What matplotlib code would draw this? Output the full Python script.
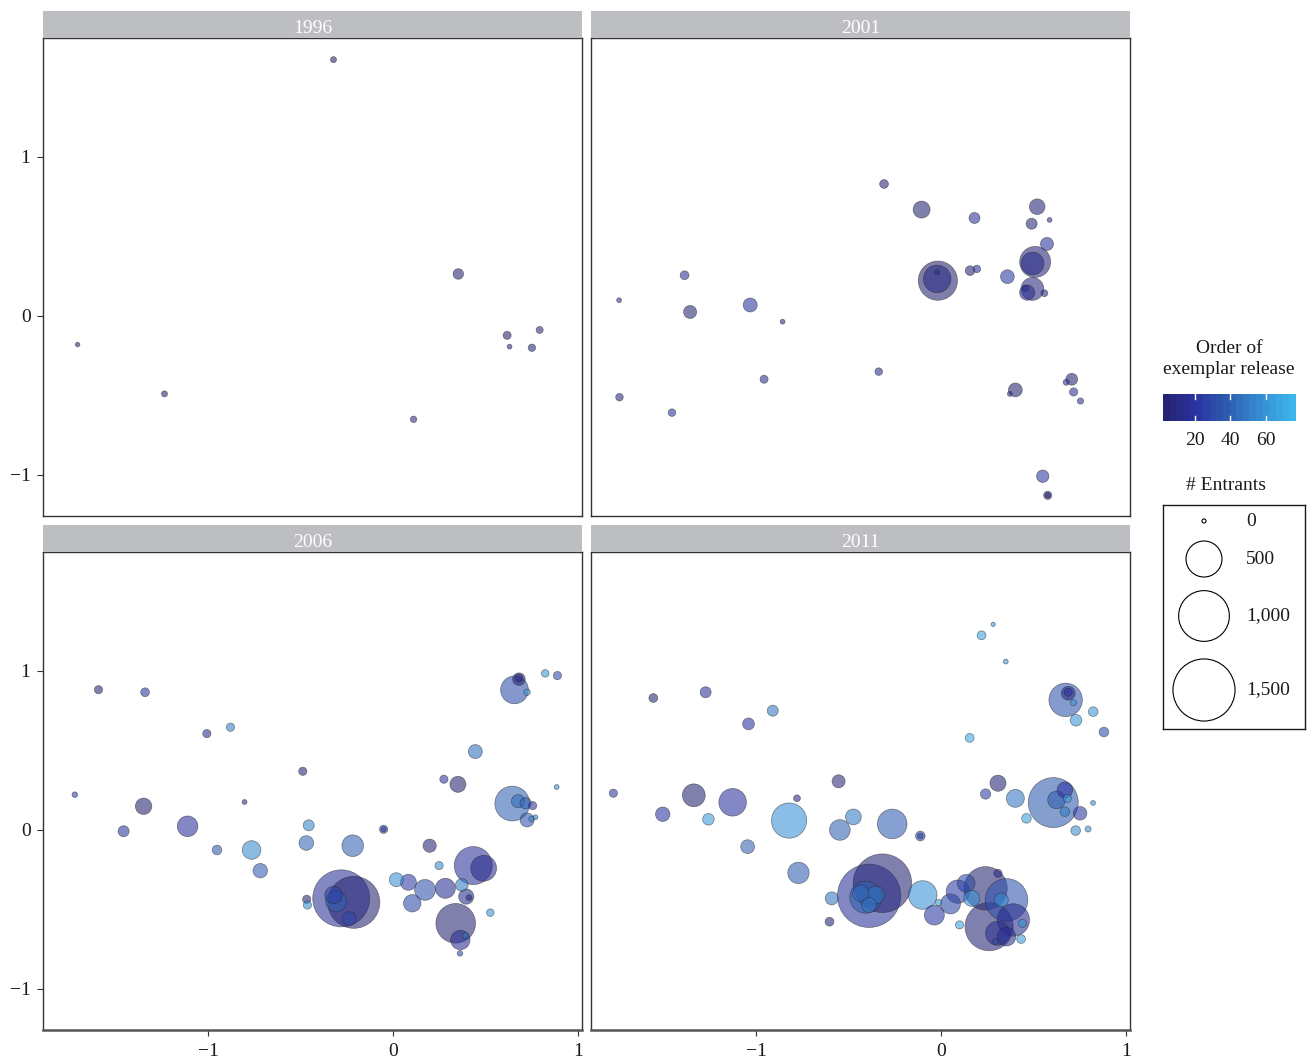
import matplotlib
matplotlib.use("Agg")
import matplotlib.pyplot as plt
import numpy as np
from matplotlib.colors import LinearSegmentedColormap, Normalize

plt.rcParams['font.family'] = ['Liberation Serif', 'DejaVu Serif']

# ---- data: position, number of entrants, order of exemplar release ----
x_1996 = [-0.324, -1.708, -1.238, 0.109, 0.351, 0.615, 0.628, 0.749, 0.791]
y_1996 = [1.612, -0.18, -0.49, -0.65, 0.264, -0.122, -0.193, -0.20, -0.088]
n_1996 = [8, 2, 8, 10, 37, 19, 3, 15, 13]
o_1996 = [3, 5, 2, 7, 1, 4, 9, 6, 8]

x_2001 = [-0.31, -0.107, 0.179, 0.518, 0.585, 0.488, 0.571, 0.507, 0.493,
          0.492, 0.464, 0.454, 0.557, -0.019, -0.023, -0.023, 0.155, 0.192,
          0.357, -1.743, -1.389, -1.359, -1.034, -0.859, -0.959, -0.339,
          -1.741, -1.457, 0.40, 0.37, 0.705, 0.675, 0.715, 0.752, 0.548,
          0.575, 0.575]
y_2001 = [0.83, 0.669, 0.616, 0.687, 0.604, 0.58, 0.453, 0.34, 0.33,
          0.17, 0.147, 0.174, 0.143, 0.222, 0.233, 0.275, 0.285, 0.296,
          0.247, 0.099, 0.256, 0.025, 0.069, -0.036, -0.398, -0.35,
          -0.511, -0.608, -0.465, -0.49, -0.398, -0.417, -0.478, -0.535, -1.008,
          -1.128, -1.128]
n_2001 = [24, 106, 41, 89, 3, 41, 60, 369, 197,
          197, 84, 8, 12, 594, 291, 4, 30, 16,
          68, 3, 24, 60, 70, 3, 19, 16,
          16, 16, 68, 3, 48, 8, 20, 9, 54,
          20, 5]
o_2001 = [6, 4, 18, 5, 16, 7, 20, 6, 12,
          8, 14, 20, 10, 3, 10, 15, 5, 17,
          22, 19, 15, 4, 21, 9, 14, 13,
          7, 17, 5, 9, 3, 16, 18, 19, 22,
          4, 12]

x_2006 = [-1.595, -1.343, -1.009, -0.881, -1.723, -1.351, -1.459, -1.113, -0.805,
          -0.954, -0.767, -0.72, -0.49, -0.458, -0.471, -0.469, -0.465,
          -0.282, -0.214, -0.31, -0.239, -0.324, -0.22, -0.053, -0.053,
          0.016, 0.081, 0.102, 0.171, 0.196, 0.247, 0.273, 0.349, 0.443,
          0.432, 0.488, 0.337, 0.362, 0.39, 0.36, 0.281, 0.37, 0.394, 0.409,
          0.524, 0.655, 0.679, 0.679, 0.723, 0.821, 0.887, 0.883,
          0.643, 0.674, 0.715, 0.753, 0.723, 0.747, 0.768]
y_2006 = [0.882, 0.866, 0.606, 0.646, 0.222, 0.149, -0.008, 0.023, 0.176,
          -0.126, -0.126, -0.256, 0.369, 0.029, -0.082, -0.436, -0.472,
          -0.43, -0.455, -0.449, -0.558, -0.409, -0.099, 0.004, 0.004,
          -0.313, -0.329, -0.461, -0.377, -0.099, -0.224, 0.319, 0.287, 0.493,
          -0.224, -0.241, -0.587, -0.692, -0.665, -0.776, -0.367, -0.346, -0.419, -0.426,
          -0.52, 0.881, 0.948, 0.955, 0.866, 0.985, 0.971, 0.27,
          0.166, 0.181, 0.168, 0.153, 0.063, 0.069, 0.08]
n_2006 = [20, 24, 20, 20, 6, 99, 41, 160, 3,
          30, 129, 75, 20, 41, 77, 20, 20,
          1263, 1050, 163, 70, 112, 176, 20, 3,
          70, 94, 112, 163, 62, 20, 20, 94, 70,
          558, 254, 606, 141, 8, 6, 150, 56, 84, 8,
          16, 295, 56, 20, 10, 16, 20, 3,
          467, 62, 44, 20, 70, 6, 3]
o_2006 = [4, 22, 14, 52, 24, 3, 20, 19, 8,
          36, 56, 38, 6, 54, 42, 5, 58,
          17, 4, 40, 30, 26, 40, 20, 30,
          58, 24, 30, 33, 5, 56, 21, 4, 45,
          18, 12, 4, 15, 50, 30, 16, 50, 14, 9,
          58, 32, 10, 6, 60, 60, 30, 55,
          40, 44, 40, 20, 34, 55, 50]

x_2011 = [0.28, 0.217, 0.348, 0.672, 0.686, 0.686, 0.714, 0.821, 0.728, 0.879,
          0.153, -1.558, -1.275, -1.043, -0.912, -1.774, -1.339, -1.507, -1.129,
          -1.26, -0.781, -0.556, -0.824, -0.476, -0.549, -0.266, -0.114, -0.114,
          -1.048, -0.773, -0.593, -0.605,
          -0.391, -0.319, -0.409, -0.355, -0.436, -0.391,
          -0.101, -0.015, -0.038, 0.049, 0.089,
          0.239, 0.352, 0.258, 0.389, 0.304, 0.164, 0.134, 0.324, 0.438, 0.431,
          0.098, 0.306, 0.292, 0.352,
          0.605, 0.668, 0.623, 0.681, 0.668, 0.75, 0.82, 0.726, 0.793, 0.46,
          0.40, 0.306, 0.239]
y_2011 = [1.293, 1.224, 1.059, 0.818, 0.86, 0.866, 0.80, 0.744, 0.69, 0.616,
          0.579, 0.83, 0.866, 0.667, 0.75, 0.231, 0.218, 0.099, 0.174,
          0.067, 0.199, 0.306, 0.059, 0.082, 0.0, 0.038, -0.038, -0.038,
          -0.105, -0.27, -0.43, -0.577,
          -0.414, -0.335, -0.423, -0.409, -0.398, -0.472,
          -0.409, -0.457, -0.535, -0.465, -0.388,
          -0.367, -0.44, -0.608, -0.566, -0.65, -0.43, -0.335, -0.44, -0.587, -0.686,
          -0.597, -0.273, -0.702, -0.671,
          0.172, 0.252, 0.189, 0.199, 0.115, 0.105, 0.17, -0.004, 0.006, 0.073,
          0.199, 0.294, 0.226]
n_2011 = [1, 24, 3, 430, 68, 20, 8, 30, 46, 30,
          24, 24, 41, 48, 41, 20, 197, 75, 291,
          46, 12, 60, 478, 91, 160, 336, 30, 6,
          68, 172, 60, 24,
          1560, 1335, 394, 116, 100, 80,
          313, 10, 150, 150, 207,
          729, 703, 901, 404, 219, 95, 116, 70, 20, 24,
          20, 20, 8, 130,
          970, 90, 116, 20, 30, 66, 3, 30, 8, 30,
          120, 95, 35]
o_2011 = [62, 66, 60, 34, 12, 20, 60, 62, 60, 30,
          70, 5, 18, 20, 48, 22, 4, 20, 19,
          64, 8, 7, 58, 50, 40, 38, 26, 30,
          40, 38, 48, 6,
          18, 4, 40, 46, 44, 48,
          58, 62, 22, 28, 24,
          4, 34, 5, 14, 16, 58, 30, 55, 60, 62,
          66, 10, 30, 15,
          36, 20, 38, 62, 50, 22, 55, 56, 58, 66,
          48, 5, 25]

years = ["1996", "2001", "2006", "2011"]
legend_n = [0, 500, 1000, 1500]
legend_labels = ["0", "500", "1,000", "1,500"]
cbar_ticks = [20, 40, 60]

# ---- styling ----
W, H = 1308, 1064
cmap = LinearSegmentedColormap.from_list(
    "release", ["#24226e", "#2a33a0", "#2f60b2", "#3590d4", "#3db9ee"])
norm = Normalize(vmin=2, vmax=77)
ALPHA = 0.58


def marker_size(n):
    # area scaled bubbles: radius in pixels, converted to points^2
    r_px = np.sqrt(4 + 0.64 * np.asarray(n, dtype=float))
    return (2 * r_px * 72 / 100) ** 2


def fx(px):
    return px / W


def fy(py):
    return 1 - py / H


fig = plt.figure(figsize=(W / 100, H / 100), dpi=100)

data = {
    "1996": (x_1996, y_1996, n_1996, o_1996),
    "2001": (x_2001, y_2001, n_2001, o_2001),
    "2006": (x_2006, y_2006, n_2006, o_2006),
    "2011": (x_2011, y_2011, n_2011, o_2011),
}
lefts = [43, 591, 43, 591]
tops = [38, 38, 552, 552]
pw, ph, sh = 539, 478, 27

for i, year in enumerate(years):
    l, t = lefts[i], tops[i]
    ax = fig.add_axes([fx(l), fy(t + ph), pw / W, ph / H])
    xs, ys, ns, os_ = [np.asarray(a, dtype=float) for a in data[year]]
    idx = np.argsort(-ns, kind="stable")
    ax.scatter(xs[idx], ys[idx], s=marker_size(ns[idx]), c=os_[idx], cmap=cmap,
               norm=norm, alpha=ALPHA, edgecolors="#2a2a2a", linewidths=0.5,
               zorder=3)
    ax.set_xlim(-1.895, 1.02)
    ax.set_ylim(-1.258, 1.748)
    ax.set_xticks([-1, 0, 1])
    ax.set_yticks([-1, 0, 1])
    for sp in ax.spines.values():
        sp.set_color("#333333")
        sp.set_linewidth(1.0)
    ax.tick_params(direction="out", length=4, width=0.8, color="#333333",
                   labelsize=14, labelcolor="#1a1a1a", pad=5)
    if i < 2:
        ax.tick_params(axis="x", bottom=False, labelbottom=False)
    else:
        ax.spines["bottom"].set_linewidth(1.8)
        ax.spines["bottom"].set_color("#555555")
    if i % 2 == 1:
        ax.tick_params(axis="y", left=False, labelleft=False)

    strip = fig.add_axes([fx(l), fy(t), pw / W, sh / H])
    strip.set_facecolor("#bdbec2")
    strip.set_xticks([])
    strip.set_yticks([])
    for sp in strip.spines.values():
        sp.set_visible(False)
    strip.text(0.5, 0.36, year, color="white", fontsize=14,
               ha="center", va="center", transform=strip.transAxes)

# ---- colour legend ----
fig.text(fx(1229), fy(359), "Order of\nexemplar release", fontsize=14,
         ha="center", va="center", linespacing=1.35, color="#1a1a1a")
cax = fig.add_axes([fx(1163), fy(421), 133 / W, 27 / H])
edges = np.linspace(norm.vmin, norm.vmax, 21)
mids = (edges[:-1] + edges[1:]) / 2
cax.pcolormesh(edges, [0, 1], mids[None, :], cmap=cmap, norm=norm,
               shading="flat")
for tk in cbar_ticks:
    cax.plot([tk, tk], [0, 0.2], color="white", lw=1)
    cax.plot([tk, tk], [0.8, 1], color="white", lw=1)
cax.set_xlim(norm.vmin, norm.vmax)
cax.set_ylim(0, 1)
cax.set_yticks([])
cax.set_xticks(cbar_ticks)
cax.set_xticklabels([str(t) for t in cbar_ticks])
cax.tick_params(axis="x", length=0, labelsize=14, pad=8, labelcolor="#1a1a1a")
for sp in cax.spines.values():
    sp.set_visible(False)

# ---- size legend ----
fig.text(fx(1226), fy(485), "# Entrants", fontsize=14, ha="center",
         va="center", color="#1a1a1a")
lax = fig.add_axes([fx(1163), fy(729), 142 / W, 224 / H])
lax.set_xlim(0, 142)
lax.set_ylim(224, 0)
lax.set_xticks([])
lax.set_yticks([])
for sp in lax.spines.values():
    sp.set_color("#1a1a1a")
    sp.set_linewidth(1.0)
leg_y = [16, 54, 111, 185]
lax.scatter([41] * 4, leg_y, s=marker_size(legend_n), facecolors="white",
            edgecolors="black", linewidths=0.8)
for yy, lab in zip(leg_y, legend_labels):
    lax.text(83, yy, lab, fontsize=14, ha="left", va="center",
             color="#1a1a1a")

fig.savefig("out.png", dpi=100)
